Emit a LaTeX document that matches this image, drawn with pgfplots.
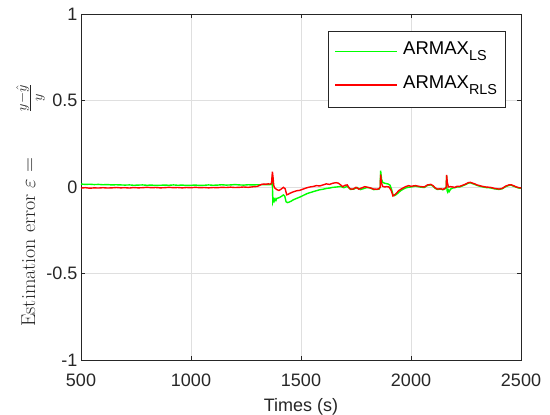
\documentclass[border=0pt]{standalone}
\usepackage{fontspec}
\usepackage{pgfplots}
\pgfplotsset{compat=1.18}
\newfontfamily\arial{Liberation Sans}
\definecolor{lsgreen}{RGB}{0,255,0}
\definecolor{rlsred}{RGB}{255,0,0}
\definecolor{axgray}{RGB}{38,38,38}
\definecolor{gridgray}{RGB}{223,223,223}
\newcommand{\sub}[1]{\lower6pt\hbox{\fontsize{14.4}{15}\selectfont #1}}
\newcommand{\legline}[1]{\textcolor{#1}{\rule[2.6pt]{62pt}{1.6pt}}\hspace{6pt}}

\pgfplotstableread{
t e
500 0.017
520 0.015
540 0.016
560 0.014
580 0.015
600 0.013
620 0.014
640 0.012
660 0.013
680 0.012
700 0.011
720 0.012
740 0.010
760 0.011
780 0.012
800 0.010
820 0.011
840 0.009
860 0.010
880 0.011
900 0.010
920 0.012
940 0.010
960 0.011
980 0.009
1000 0.010
1020 0.011
1040 0.009
1060 0.010
1080 0.012
1100 0.010
1120 0.011
1140 0.013
1160 0.011
1180 0.012
1200 0.014
1220 0.012
1240 0.011
1260 0.013
1280 0.012
1300 0.013
1320 0.013
1340 0.014
1360 0.014
1366 0.016
1369 0.060
1372 -0.085
1375 -0.070
1378 -0.082
1382 -0.068
1386 -0.078
1390 -0.066
1400 -0.062
1410 -0.055
1420 -0.046
1426 -0.052
1432 -0.085
1438 -0.090
1445 -0.088
1455 -0.082
1465 -0.074
1480 -0.066
1495 -0.058
1510 -0.049
1526 -0.039
1540 -0.033
1555 -0.027
1571 -0.021
1585 -0.016
1600 -0.013
1617 -0.008
1630 -0.006
1645 -0.002
1662 0.000
1680 0.003
1695 -0.004
1710 0.004
1725 -0.014
1740 -0.012
1755 -0.003
1770 -0.015
1785 -0.009
1800 -0.003
1815 -0.006
1830 -0.015
1845 -0.014
1855 -0.012
1860 0.000
1862 0.094
1866 0.045
1872 0.026
1882 0.021
1895 0.018
1905 0.010
1912 -0.015
1918 -0.044
1925 -0.050
1935 -0.042
1945 -0.030
1955 -0.020
1965 -0.012
1975 -0.006
1990 -0.001
2000 0.000
2020 0.005
2040 0.000
2060 -0.003
2075 0.009
2090 0.012
2100 0.005
2110 -0.008
2120 -0.014
2135 -0.012
2145 -0.016
2155 -0.010
2160 0.000
2162 0.066
2164 -0.022
2167 -0.030
2170 -0.018
2174 -0.026
2180 -0.012
2190 -0.006
2200 -0.004
2210 0.001
2220 0.000
2235 0.007
2250 0.015
2260 0.022
2270 0.024
2280 0.019
2290 0.015
2300 0.009
2320 0.002
2340 -0.003
2360 -0.005
2380 -0.011
2400 -0.014
2415 -0.010
2430 0.002
2445 0.009
2455 0.011
2465 0.005
2480 -0.002
2490 -0.006
2500 -0.007
}\lsdata

\pgfplotstableread{
t e
500 -0.006
520 -0.004
540 -0.007
560 -0.005
580 -0.006
600 -0.004
620 -0.006
640 -0.005
660 -0.003
680 -0.005
700 -0.004
720 -0.006
740 -0.003
760 -0.005
780 -0.004
800 -0.002
820 -0.004
840 -0.003
860 -0.005
880 -0.004
900 -0.002
920 -0.004
940 -0.003
960 -0.005
980 -0.003
1000 -0.004
1020 -0.002
1040 -0.004
1060 -0.003
1080 -0.005
1100 -0.003
1120 -0.004
1140 -0.002
1160 -0.003
1180 -0.001
1200 -0.003
1220 -0.002
1240 0.000
1260 -0.002
1280 0.001
1300 0.003
1310 0.008
1320 0.015
1330 0.017
1340 0.016
1350 0.018
1360 0.017
1366 0.020
1370 0.088
1373 0.055
1376 0.010
1380 -0.005
1390 -0.015
1400 -0.020
1410 -0.012
1420 -0.002
1428 -0.010
1435 -0.045
1442 -0.042
1450 -0.036
1465 -0.028
1480 -0.022
1495 -0.019
1510 -0.012
1525 -0.005
1540 0.000
1555 0.003
1570 0.008
1585 0.006
1600 0.012
1615 0.018
1630 0.015
1645 0.022
1660 0.025
1670 0.022
1680 0.012
1690 0.002
1700 0.010
1710 0.012
1722 -0.010
1735 -0.013
1750 -0.002
1762 -0.012
1775 -0.006
1790 0.002
1805 -0.002
1815 -0.005
1830 -0.012
1845 -0.013
1855 -0.010
1860 0.000
1862 0.072
1865 0.030
1870 0.005
1880 0.000
1890 0.002
1900 0.000
1910 -0.020
1918 -0.052
1925 -0.046
1935 -0.034
1945 -0.020
1955 -0.012
1965 -0.005
1975 0.002
1990 0.008
2000 0.004
2020 0.008
2040 0.003
2060 0.000
2075 0.012
2090 0.015
2100 0.008
2110 -0.005
2120 -0.012
2135 -0.010
2145 -0.014
2155 -0.008
2160 0.000
2162 0.070
2165 0.028
2170 0.000
2180 0.002
2190 0.000
2200 -0.002
2210 0.004
2220 0.003
2235 0.010
2250 0.018
2260 0.025
2270 0.027
2280 0.022
2290 0.018
2300 0.012
2320 0.005
2340 0.000
2360 -0.002
2380 -0.008
2400 -0.012
2415 -0.008
2430 0.005
2445 0.012
2455 0.013
2465 0.008
2480 0.000
2490 -0.004
2500 -0.005
}\rlsdata

\begin{document}
\begin{tikzpicture}
\begin{axis}[
    name=ax,
    scale only axis,
    width=440pt, height=346pt,
    xmin=500, xmax=2500, ymin=-1, ymax=1,
    clip=false,
    xtick={500,1000,1500,2000,2500},
    xticklabels={500,1000,1500,2000,2500},
    ytick={-1,-0.5,0,0.5,1},
    yticklabels={-1,-0.5,0,0.5,1},
    tick align=inside,
    major tick length=4.4pt,
    xmajorgrids, ymajorgrids,
    grid style={gridgray, line width=0.6pt},
    axis line style={axgray, line width=0.8pt},
    tick style={axgray, line width=0.8pt},
    ticklabel style={font=\arial\fontsize{18}{20}\selectfont, text=axgray},
    xticklabel style={yshift=-10pt},
    xlabel={Times (s)},
    xlabel style={font=\arial\fontsize{18}{20}\selectfont, text=axgray,
        at={(axis description cs:0.5,-0.1474)}, anchor=base},
    ylabel={Estimation error $\varepsilon=\hspace{40pt}\frac{y-\hat{y}}{y}$},
    ylabel style={font=\fontsize{20}{22}\selectfont, text=axgray,
        at={(axis description cs:-0.1045,0.447)}, anchor=base},
]
\addplot[draw=lsgreen, line width=1.4pt] table {\lsdata};
\addplot[draw=rlsred, line width=1.4pt] table {\rlsdata};
% legend box, samples set as coloured rules
\fill[white] (axis description cs:0.5614,0.9509) rectangle (axis description cs:0.9636,0.7312);
\draw[draw=axgray, line width=0.6pt] (axis description cs:0.5614,0.9509) rectangle (axis description cs:0.9636,0.7312);
\node[anchor=base west, inner sep=0pt, font=\arial\fontsize{18.5}{20}\selectfont]
    at (axis description cs:0.5773,0.8815) {\legline{lsgreen}ARMAX\sub{LS}};
\node[anchor=base west, inner sep=0pt, font=\arial\fontsize{18.5}{20}\selectfont]
    at (axis description cs:0.5773,0.7853) {\legline{rlsred}ARMAX\sub{RLS}};
\end{axis}
\pgfresetboundingbox
\path ([shift={(-81pt,-54pt)}]ax.south west) rectangle ([shift={(29pt,14pt)}]ax.north east);
\end{tikzpicture}
\end{document}
